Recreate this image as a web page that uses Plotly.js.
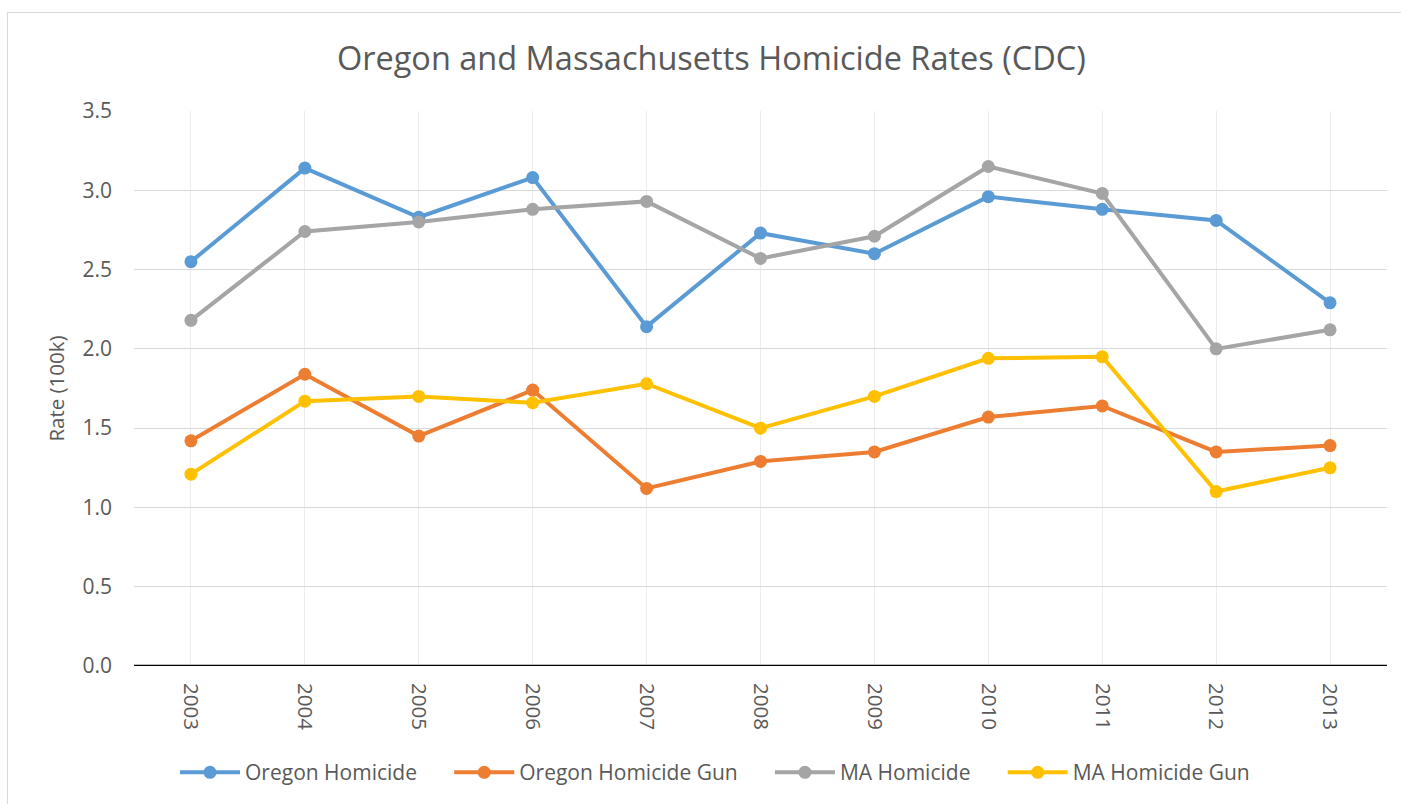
<!DOCTYPE html>
<html>
<head>
<meta charset="utf-8">
<script src="https://cdn.plot.ly/plotly-3.0.1.min.js"></script>
<style>
html,body{margin:0;padding:0;background:#fff;overflow:hidden;}
#frame{position:absolute;left:7px;top:12px;width:1420px;height:820px;border:1px solid #d9d9d9;}
#chart{position:absolute;left:0;top:0;width:1401px;height:804px;}
</style>
</head>
<body>
<div id="frame"></div>
<div id="chart"></div>
<script>
const years = ["2003","2004","2005","2006","2007","2008","2009","2010","2011","2012","2013"];
const seriesNames = ["Oregon Homicide", "Oregon Homicide Gun", "MA Homicide", "MA Homicide Gun"];
const oregonHomicide = [2.55, 3.14, 2.83, 3.08, 2.14, 2.73, 2.60, 2.96, 2.88, 2.81, 2.29];
const oregonHomicideGun = [1.42, 1.84, 1.45, 1.74, 1.12, 1.29, 1.35, 1.57, 1.64, 1.35, 1.39];
const maHomicide = [2.18, 2.74, 2.80, 2.88, 2.93, 2.57, 2.71, 3.15, 2.98, 2.00, 2.12];
const maHomicideGun = [1.21, 1.67, 1.70, 1.66, 1.78, 1.50, 1.70, 1.94, 1.95, 1.10, 1.25];
const yTicks = [0, 0.5, 1, 1.5, 2, 2.5, 3, 3.5];
const yTickText = ["0.0","0.5","1.0","1.5","2.0","2.5","3.0","3.5"];

const gap = "\u00a0\u00a0\u00a0\u00a0\u00a0";
function tr(i, y, color){
  return {x: years, y: y, name: seriesNames[i] + (i < 3 ? gap : ""), type: 'scatter', mode: 'lines+markers',
    line: {color: color, width: 4}, marker: {color: color, size: 13}};
}
const data = [
  tr(0, oregonHomicide, "#5b9bd5"),
  tr(1, oregonHomicideGun, "#ed7d31"),
  tr(2, maHomicide, "#a5a5a5"),
  tr(3, maHomicideGun, "#ffc000")
];
const layout = {
  width: 1401, height: 804,
  paper_bgcolor: 'rgba(0,0,0,0)', plot_bgcolor: 'rgba(0,0,0,0)',
  margin: {l: 134, r: 14, t: 111, b: 137},
  font: {family: "Open Sans, sans-serif", color: "#595959"},
  title: {text: "Oregon and Massachusetts Homicide Rates (CDC)", font: {family: "Open Sans", size: 32.5, color: "#595959"}, x: 0.5078, xanchor: 'center', y: 0.927, yanchor: 'middle'},
  xaxis: {type: 'category', range: [-0.5, 10.5], tickangle: 90, showgrid: true, gridcolor: '#ececec', gridwidth: 1,
    showline: false, zeroline: false, ticks: '', tickfont: {size: 20.5, color: '#595959'}, ticklabelstandoff: 16},
  yaxis: {range: [0, 3.5], tickvals: yTicks, ticktext: yTickText, showgrid: true, gridcolor: '#d9d9d9', gridwidth: 1.3,
    zeroline: false, showline: false, ticks: '', tickfont: {size: 21, color: '#595959'}, ticklabelstandoff: 21,
    title: {text: "Rate (100k)", font: {size: 20.5, color: '#595959'}, standoff: 12}},
  shapes: [{type: 'line', xref: 'paper', yref: 'y', x0: 0, x1: 1, y0: 0, y1: 0, line: {color: '#000', width: 2.5}}],
  legend: {orientation: 'h', x: 0.4637, xanchor: 'center', y: -0.19, yanchor: 'middle', font: {size: 21, color: '#595959'}, itemwidth: 60, tracegroupgap: 0},
  showlegend: true
};
Plotly.newPlot('chart', data, layout, {displayModeBar: false});
</script>
</body>
</html>
